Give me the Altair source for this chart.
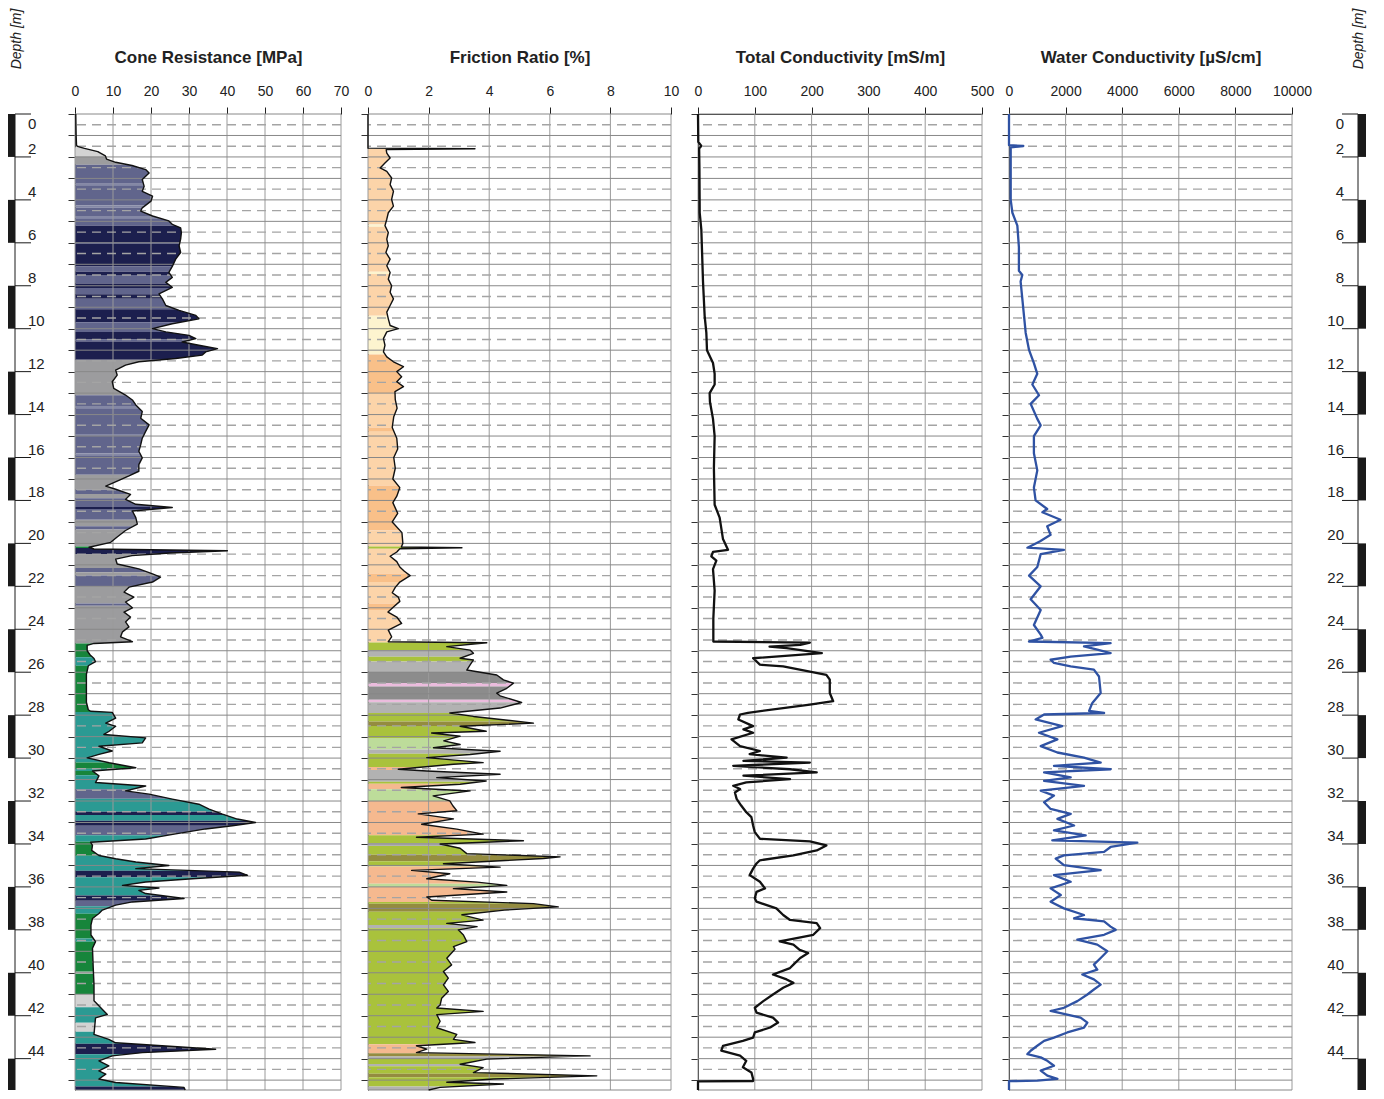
import altair as alt
import pandas as pd

# ---------------- data ----------------
cone_depth = [0.0, 1.0, 1.45, 1.51, 1.6, 1.75, 1.95, 2.1, 2.25, 2.4, 2.59, 2.75, 3.05, 3.37, 3.6, 3.83, 4.06, 4.37, 4.52, 4.75,
              4.98, 5.14, 5.3, 5.52, 5.83, 6.14, 6.45, 6.76, 7.1, 7.38, 7.61, 7.84, 8.07, 8.38, 8.61, 8.92, 9.15, 9.38, 9.54, 9.77,
              10.0, 10.15, 10.31, 10.46, 10.62, 10.77, 10.93, 11.08, 11.23, 11.39, 11.54, 11.7, 11.93, 12.16, 12.47, 12.78, 13.09, 13.32, 13.55, 13.86,
              14.17, 14.48, 14.78, 15.1, 15.4, 15.71, 16.02, 16.33, 16.64, 16.86, 17.1, 17.33, 17.48, 17.72, 17.95, 18.18, 18.33, 18.49, 18.8, 19.1,
              19.4, 19.7, 19.95, 20.18, 20.26, 20.34, 20.45, 20.57, 20.73, 20.96, 21.19, 21.42, 21.57, 21.8, 22.04, 22.27, 22.5, 22.73, 23.0, 23.2,
              23.43, 23.66, 23.89, 24.12, 24.35, 24.58, 24.66, 24.75, 25.0, 25.2, 25.36, 25.51, 25.7, 26.1, 26.8, 27.4, 27.75, 27.82, 27.87, 28.14,
              28.37, 28.52, 28.75, 28.9, 29.06, 29.29, 29.45, 29.67, 29.83, 29.99, 30.22, 30.45, 30.6, 30.83, 31.14, 31.3, 31.53, 31.68, 31.91, 32.15,
              32.38, 32.61, 32.84, 33.0, 33.15, 33.3, 33.53, 33.77, 33.92, 34.07, 34.3, 34.54, 34.69, 34.84, 35.0, 35.15, 35.31, 35.46, 35.62, 35.77,
              35.93, 36.05, 36.16, 36.31, 36.54, 36.7, 36.85, 37.08, 37.24, 37.47, 37.78, 38.24, 38.55, 38.86, 39.78, 40.55, 41.3, 41.94, 42.1, 42.87,
              43.1, 43.26, 43.41, 43.56, 43.72, 43.87, 44.1, 44.34, 44.57, 44.72, 44.95, 45.11, 45.34, 45.46]
cone_qc = [0.2, 0.3, 0.4, 0.6, 2.5, 6.0, 8.0, 8.3, 10.7, 15.0, 18.6, 19.5, 17.7, 18.2, 17.7, 20.4, 20.0, 17.7, 17.3, 20.4,
           24.7, 25.6, 27.8, 28.0, 27.8, 27.4, 27.8, 26.5, 25.6, 24.7, 25.6, 23.9, 25.6, 22.1, 23.0, 23.9, 27.4, 31.8, 32.6, 25.6,
           20.4, 23.9, 30.0, 31.8, 28.2, 32.6, 37.5, 34.4, 33.5, 26.5, 16.8, 13.3, 10.7, 11.1, 9.8, 10.2, 13.3, 15.1, 16.0, 17.7,
           17.3, 19.5, 18.6, 17.7, 17.3, 16.8, 17.7, 16.8, 16.8, 14.2, 11.1, 8.1, 10.7, 14.6, 13.3, 16.0, 25.6, 15.1, 16.0, 16.4,
           13.3, 11.1, 9.4, 3.7, 5.0, 40.1, 25.0, 15.0, 10.7, 11.1, 16.8, 20.4, 22.5, 20.4, 14.2, 12.9, 15.5, 13.3, 15.1, 12.9,
           14.6, 13.3, 14.2, 12.5, 12.0, 15.1, 5.0, 3.2, 3.2, 4.0, 5.0, 5.4, 3.5, 3.0, 3.0, 3.0, 3.5, 4.1, 9.8, 10.7,
           8.1, 10.7, 9.0, 7.6, 18.6, 17.7, 6.3, 9.8, 6.3, 3.2, 9.0, 16.0, 4.6, 6.3, 5.4, 18.6, 13.3, 19.5, 25.6, 32.6,
           35.3, 38.8, 42.7, 47.5, 41.4, 34.4, 26.5, 18.6, 4.1, 4.6, 4.4, 6.3, 10.7, 16.0, 24.7, 16.0, 43.2, 45.4, 30.9, 18.6,
           12.5, 22.1, 16.8, 18.6, 28.7, 15.1, 10.7, 7.2, 6.3, 4.6, 4.2, 4.2, 5.4, 4.6, 4.8, 5.0, 5.0, 8.5, 5.4, 5.0,
           8.9, 10.7, 23.9, 37.0, 17.7, 9.8, 6.3, 8.9, 6.3, 8.1, 6.3, 10.7, 28.7, 29.0]

fr_depth = [0.0, 1.59, 1.62, 1.66, 1.82, 2.05, 2.28, 2.51, 2.67, 2.98, 3.29, 3.6, 3.98, 4.29, 4.6, 4.9, 5.2, 5.52, 5.83, 6.14,
            6.45, 6.76, 7.07, 7.38, 7.69, 8.0, 8.3, 8.61, 8.92, 9.23, 9.54, 9.85, 10.0, 10.15, 10.46, 10.77, 11.08, 11.31, 11.54, 11.77,
            12.0, 12.24, 12.47, 12.7, 12.93, 13.3, 13.7, 14.1, 14.6, 15.1, 15.6, 16.0, 16.5, 17.0, 17.4, 17.8, 18.1, 18.6, 19.0, 19.5,
            20.0, 20.17, 20.2, 20.25, 20.4, 20.6, 20.85, 21.1, 21.3, 21.5, 21.8, 22.05, 22.3, 22.5, 22.7, 22.95, 23.2, 23.43, 23.73, 24.04,
            24.35, 24.58, 24.63, 24.81, 24.97, 25.12, 25.35, 25.43, 25.66, 25.9, 26.13, 26.36, 26.51, 26.75, 26.98, 27.1, 27.41, 27.67, 27.9, 28.06,
            28.37, 28.52, 28.75, 28.83, 28.98, 29.2, 29.37, 29.52, 29.68, 29.83, 29.98, 30.21, 30.29, 30.52, 30.6, 30.75, 30.91, 31.07, 31.22, 31.37,
            31.53, 31.76, 31.99, 32.22, 32.45, 32.6, 32.83, 33.08, 33.31, 33.54, 33.69, 33.85, 34.0, 34.2, 34.45, 34.6, 34.68, 34.92, 35.08, 35.23,
            35.39, 35.62, 35.78, 35.93, 36.08, 36.24, 36.47, 36.62, 36.78, 36.93, 37.08, 37.3, 37.55, 37.7, 37.85, 38.0, 38.24, 38.55, 38.78, 38.9,
            39.32, 39.63, 39.94, 40.25, 40.56, 40.87, 41.19, 41.5, 41.64, 41.8, 41.95, 42.26, 42.56, 42.87, 43.1, 43.25, 43.4, 43.56, 43.72, 43.87,
            44.02, 44.26, 44.42, 44.65, 44.8, 44.95, 45.1, 45.18, 45.34, 45.46]
fr_rf = [0.0, 0.0, 3.53, 0.6, 0.62, 0.73, 0.56, 0.4, 0.62, 0.78, 0.73, 0.84, 0.78, 0.84, 0.67, 0.62, 0.56, 0.67, 0.62, 0.67,
         0.59, 0.73, 0.62, 0.73, 0.67, 0.78, 0.73, 0.84, 0.73, 0.62, 0.67, 0.73, 1.0, 0.62, 0.51, 0.56, 0.51, 0.62, 0.84, 1.17,
         0.95, 1.11, 0.95, 1.17, 0.89, 0.9, 0.96, 0.85, 0.8, 0.95, 0.98, 0.85, 0.9, 0.82, 1.05, 0.95, 0.82, 0.98, 0.8, 1.12,
         1.15, 1.1, 3.1, 1.05, 0.95, 0.73, 0.95, 1.05, 1.2, 1.39, 1.05, 0.9, 0.8, 1.0, 1.05, 0.85, 0.66, 0.95, 1.11, 0.67,
         0.78, 0.67, 3.92, 2.6, 3.37, 3.48, 3.04, 3.48, 3.37, 3.26, 4.25, 4.47, 4.8, 4.58, 4.25, 4.36, 5.07, 4.36, 2.7, 3.48,
         5.46, 3.04, 3.9, 2.1, 3.04, 2.5, 3.04, 2.16, 4.36, 3.37, 1.94, 3.8, 2.82, 1.0, 1.94, 4.36, 2.27, 3.9, 3.04, 1.1,
         3.37, 2.15, 2.7, 2.8, 2.93, 1.66, 2.82, 1.77, 2.93, 3.8, 1.6, 5.13, 2.38, 3.04, 3.26, 6.34, 5.79, 2.49, 4.36, 1.44,
         2.7, 1.94, 3.6, 4.58, 2.82, 4.58, 1.94, 2.1, 5.46, 6.28, 4.5, 3.1, 3.8, 2.6, 3.6, 2.98, 3.15, 3.26, 2.82, 2.87,
         2.6, 2.76, 2.49, 2.65, 2.49, 2.65, 2.43, 2.38, 2.27, 3.8, 2.27, 2.38, 2.27, 2.93, 2.82, 3.53, 1.6, 1.94, 1.6, 7.33,
         3.92, 3.04, 3.8, 3.48, 7.55, 4.14, 2.6, 4.47, 2.38, 2.0]

tc_depth = [0.0, 1.3, 1.49, 1.6, 2.5, 4.6, 5.4, 7.8, 9.4, 10.2, 11.0, 11.6, 12.1, 12.6, 13.0, 13.4, 14.2, 15.0, 16.5, 18.2,
            18.8, 19.8, 20.3, 20.4, 20.6, 20.8, 21.2, 22.2, 23.5, 24.57, 24.62, 24.73, 24.81, 24.88, 25.11, 25.35, 25.42, 25.65, 25.73, 26.12,
            26.35, 26.97, 27.35, 27.51, 27.89, 27.97, 28.2, 28.51, 28.66, 28.82, 29.13, 29.44, 29.67, 29.82, 29.98, 30.13, 30.21, 30.36, 30.52, 30.67,
            30.82, 30.98, 31.13, 31.29, 31.44, 31.6, 31.9, 32.21, 32.52, 32.75, 33.14, 33.45, 33.76, 33.88, 34.07, 34.3, 34.53, 34.76, 34.91, 35.15,
            35.45, 35.76, 36.07, 36.23, 36.53, 36.69, 37.0, 37.31, 37.54, 37.69, 37.92, 38.23, 38.54, 38.69, 38.93, 39.08, 39.31, 39.62, 39.78, 40.08,
            40.31, 40.47, 40.7, 41.01, 41.32, 41.63, 41.86, 42.09, 42.32, 42.55, 42.78, 43.02, 43.17, 43.4, 43.63, 43.86, 44.1, 44.4, 44.64, 44.94,
            45.04, 45.06, 45.46]
tc_val = [0, 0.5, 5.9, 2, 2.5, 3, 5.9, 8.8, 11.7, 14.7, 15.8, 26.4, 29.3, 29.3, 20.5, 21, 26.4, 29.3, 28, 29.3,
          38.1, 44, 52.8, 26.4, 23.5, 32.3, 26.4, 29.3, 27, 27, 197, 180, 126, 156, 218, 97, 100, 109, 150, 226,
          232, 232, 238, 197, 88, 74, 71, 97, 80, 97, 59, 74, 109, 91, 156, 80, 197, 62, 162, 209,
          80, 162, 85, 62, 74, 65, 68, 76, 85, 94, 97, 100, 109, 197, 226, 209, 168, 109, 103, 97,
          91, 109, 118, 103, 100, 103, 138, 150, 162, 209, 215, 203, 144, 168, 179, 194, 180, 168, 162, 132,
          156, 168, 150, 132, 115, 100, 103, 132, 141, 127, 100, 97, 79, 44, 41, 74, 85, 79, 94, 97,
          97, 0, 0]

wc_depth = [0.0, 1.45, 1.49, 1.55, 2.5, 4.0, 4.6, 5.2, 6.2, 7.3, 7.5, 7.8, 9.4, 10.2, 11.0, 11.6, 12.1, 12.6, 13.1, 13.5,
            14.2, 14.5, 15.0, 15.8, 16.6, 17.4, 18.0, 18.4, 18.55, 18.9, 19.2, 19.6, 19.9, 20.2, 20.3, 20.5, 21.1, 21.5, 22.0, 22.6,
            23.1, 23.8, 24.25, 24.4, 24.57, 24.65, 24.8, 24.95, 25.11, 25.27, 25.42, 25.57, 25.73, 25.88, 26.2, 26.97, 27.43, 27.8, 27.9, 27.97,
            28.2, 28.51, 28.82, 29.13, 29.44, 29.74, 29.98, 30.21, 30.36, 30.52, 30.67, 30.9, 31.06, 31.29, 31.52, 31.75, 32.06, 32.37, 32.6, 32.83,
            33.14, 33.37, 33.6, 33.83, 33.94, 34.14, 34.37, 34.53, 34.68, 34.99, 35.22, 35.45, 35.76, 36.07, 36.38, 36.69, 37.0, 37.31, 37.46, 37.61,
            37.85, 38.0, 38.23, 38.46, 38.69, 39.0, 39.31, 39.62, 39.85, 40.08, 40.31, 40.55, 40.78, 41.01, 41.32, 41.63, 41.78, 42.09, 42.32, 42.55,
            42.78, 43.02, 43.17, 43.4, 43.63, 43.79, 43.94, 44.1, 44.33, 44.56, 44.79, 44.94, 45.02, 45.05, 45.46]
wc_val = [0, 0, 506, 60, 60, 60, 120, 295, 350, 350, 470, 410, 530, 590, 710, 880, 1000, 825, 1060, 765,
          1000, 1120, 880, 880, 1000, 880, 940, 1350, 1180, 1820, 1350, 1470, 1100, 650, 1940, 1120, 1000, 710, 1120, 765,
          1120, 880, 1120, 1180, 707, 3590, 2650, 3120, 3590, 2180, 1470, 1590, 2180, 3000, 3180, 3240, 2945, 2830, 3360, 1240,
          940, 1880, 1060, 1710, 1120, 1710, 2650, 3240, 1590, 3590, 1240, 2180, 1240, 2650, 1120, 1590, 1240, 1470, 2180, 1710,
          2300, 1590, 2710, 1530, 4535, 3590, 3360, 1940, 1650, 1940, 3240, 1590, 2180, 1470, 1830, 1470, 1940, 2650, 2300, 3360,
          3590, 3770, 3360, 2415, 3120, 3475, 3240, 3000, 3120, 2590, 3000, 3240, 3000, 2770, 2415, 1940, 1470, 2530, 2770, 2650,
          2060, 1590, 1240, 1000, 765, 650, 1120, 1355, 1590, 1120, 1355, 1710, 1000, 0, 0]

# soil-behaviour colour bands (top depth of each band, class)
cone_top = [1.55, 1.98, 2.36, 3.25, 3.32, 4.25, 4.35, 4.75, 4.85, 5.2, 6.0, 6.05, 7.1, 7.35, 7.5, 7.9, 8.1, 8.4, 8.6, 9.1,
            9.7, 10.15, 10.5, 10.6, 11.45, 13.1, 13.6, 13.7, 14.9, 15.0, 15.8, 15.9, 16.8, 17.5, 17.7, 17.9, 18.3, 18.4, 18.9, 19.2,
            19.35, 20.15, 20.22, 20.5, 21.15, 21.35, 21.5, 22.0, 22.8, 22.9, 24.66, 25.3, 25.7, 27.85, 30.2, 30.5, 30.6, 30.8, 31.45, 31.9,
            32.5, 32.65, 32.92, 33.15, 33.6, 33.9, 34.55, 35.25, 35.55, 36.4, 36.65, 36.9, 37.25, 38.4, 38.55, 39.95, 40.05, 41.0, 41.6, 42.33,
            42.75, 43.3, 43.8, 45.3]
cone_soil = ["lgray", "gray", "slate", "lslate", "slate", "lslate", "slate", "lslate", "slate", "navy", "slate", "navy", "slate", "navy", "slate", "navy", "slate", "navy", "slate", "navy",
             "slate", "navy", "slate", "navy", "gray", "slate", "lslate", "slate", "lslate", "slate", "lslate", "slate", "gray", "slate", "gray", "slate", "navy", "slate", "gray", "slate",
             "gray", "green", "navy", "gray", "slate", "gray", "slate", "gray", "slate", "gray", "green", "teal", "green", "teal", "green", "teal", "green", "teal", "slate", "teal",
             "navy", "teal", "navy", "slate", "teal", "green", "teal", "navy", "teal", "navy", "slate", "teal", "green", "teal", "green", "lgray", "green", "lgray", "teal", "lgray",
             "teal", "navy", "teal", "navy"]
cone_colors = {"lgray": "#d3d3d3", "gray": "#9c9c9e", "slate": "#61658c", "lslate": "#8488a5",
               "navy": "#1c1f4e", "teal": "#2b9a93", "green": "#17853b"}

fr_top = [1.62, 5.15, 5.25, 7.35, 7.45, 9.4, 11.2, 13.0, 14.6, 14.8, 17.3, 19.4, 20.15, 20.25, 21.4, 21.8, 22.8, 23.1, 24.62, 24.97,
          25.28, 25.5, 25.97, 26.5, 26.67, 27.28, 27.4, 27.9, 28.3, 28.5, 29.06, 29.6, 29.8, 30.42, 30.55, 31.1, 31.2, 31.45, 32.0, 33.6,
          33.95, 34.1, 34.5, 34.8, 35.05, 35.85, 36.0, 36.7, 36.78, 37.16, 37.78, 37.93, 43.33, 43.75, 43.9, 44.0, 44.25, 44.35, 44.7, 44.87,
          45.3]
fr_soil = ["peach", "cream", "peach", "cream", "peach", "cream", "orange", "peach", "orange", "peach", "orange", "peach", "ygreen", "peach", "orange", "peach", "orange", "peach", "ygreen", "gray",
           "ygreen", "gray", "dgray", "pink", "dgray", "pink", "gray", "ygreen", "olive", "ygreen", "lgreen", "gray", "ygreen", "salmon", "gray", "ygreen", "salmon", "lgreen", "salmon", "ygreen",
           "gray", "ygreen", "olive", "ygreen", "salmon", "lgreen", "salmon", "ygreen", "olive", "ygreen", "gray", "ygreen", "salmon", "olive", "gray", "ygreen", "gray", "ygreen", "olive", "ygreen",
           "gray"]
fr_colors = {"peach": "#fcd4a9", "cream": "#fdf4cf", "orange": "#f9c089", "ygreen": "#a9c23c", "lgreen": "#bddc9a",
             "gray": "#b2b2b2", "dgray": "#8c8c8c", "pink": "#ebbcdd", "olive": "#948c40", "salmon": "#f5b98f"}

depth_labels = list(range(0, 45, 2))

# ---------------- layout constants ----------------
DMAX = 45.46
H = 976
INK = "#222222"


def y_scale():
    return alt.Scale(domain=[0, DMAX], reverse=True, nice=False, zero=False)


def data_panel(depth, vals, xmax, step, title, W, line_color, line_w,
               tops=None, soils=None, colors=None, fmt=None):
    ticks = [step * i for i in range(int(round(xmax / step)) + 1)]
    xsc = alt.Scale(domain=[0, xmax], nice=False, zero=False)
    ysc = y_scale()
    ax_kw = dict(orient="top", values=ticks, title=title, titleFontSize=17, titleFontWeight="bold",
                 titleColor=INK, titlePadding=18, labelFontSize=14, labelColor=INK, labelPadding=9,
                 labelFlush=False, labelOverlap=False, tickSize=7, tickColor=INK, domainColor=INK,
                 grid=False)
    if fmt:
        ax_kw["format"] = fmt
    xaxis = alt.Axis(**ax_kw)
    yaxis = alt.Axis(orient="left", values=list(range(46)), labels=False, ticks=True, tickSize=7,
                     tickColor="#333333", domainColor=INK, grid=False, title=None)
    df = pd.DataFrame({"depth": depth, "v": vals})
    layers = []
    if tops is not None:
        sdf = pd.DataFrame({"top": tops, "bottom": tops[1:] + [DMAX],
                            "hex": [colors[s] for s in soils]})
        layers.append(
            alt.Chart(sdf).mark_rect().encode(
                y=alt.Y("top:Q", scale=ysc, axis=yaxis),
                y2="bottom:Q",
                x=alt.value(0), x2=alt.value(W),
                color=alt.Color("hex:N", scale=None, legend=None),
            )
        )
        layers.append(
            alt.Chart(df).mark_area(orient="horizontal", color="white", opacity=1).encode(
                y=alt.Y("depth:Q", scale=ysc, axis=yaxis),
                x=alt.X("v:Q", scale=xsc, axis=xaxis, stack=None),
                x2=alt.value(W),
            )
        )
    vg = pd.DataFrame({"gx": ticks})
    layers.append(alt.Chart(vg).mark_rule(color="#9a9a9a", strokeWidth=1).encode(
        x=alt.X("gx:Q", scale=xsc, axis=xaxis)))
    hd = pd.DataFrame({"gy": [i + 0.5 for i in range(45)]})
    layers.append(alt.Chart(hd).mark_rule(color="#a4a4a4", strokeWidth=1.4, strokeDash=[9, 6]).encode(
        y=alt.Y("gy:Q", scale=ysc, axis=yaxis)))
    hs = pd.DataFrame({"gy": list(range(46)) + [DMAX]})
    layers.append(alt.Chart(hs).mark_rule(color="#888888", strokeWidth=1).encode(
        y=alt.Y("gy:Q", scale=ysc, axis=yaxis)))
    layers.append(alt.Chart(df).mark_line(color=line_color, strokeWidth=line_w, strokeJoin="round").encode(
        x=alt.X("v:Q", scale=xsc, axis=xaxis),
        y=alt.Y("depth:Q", scale=ysc, axis=yaxis),
        order="depth:Q",
    ))
    return alt.layer(*layers).properties(width=W, height=H)


def depth_panel(W, bar_x0, bar_x1, edge_x, tick_x0, tick_x1, lab_x, lab_align, title_x):
    ysc = y_scale()
    segs = pd.DataFrame({"top": [t for t in range(0, 46, 4)],
                         "bottom": [min(t + 2, DMAX) for t in range(0, 46, 4)]})
    bar = alt.Chart(segs).mark_rect(color="#1a1a1a").encode(
        y=alt.Y("top:Q", scale=ysc, axis=None), y2="bottom:Q",
        x=alt.value(bar_x0), x2=alt.value(bar_x1))
    edge = alt.Chart(pd.DataFrame({"d": [0]})).mark_rule(color="#1a1a1a", strokeWidth=1).encode(
        x=alt.value(edge_x), y=alt.value(0), y2=alt.value(H))
    tdf = pd.DataFrame({"d": depth_labels, "lab": [str(d) for d in depth_labels]})
    ticks = alt.Chart(tdf).mark_rule(color="#1a1a1a", strokeWidth=1).encode(
        y=alt.Y("d:Q", scale=ysc, axis=None), x=alt.value(tick_x0), x2=alt.value(tick_x1))
    labs = alt.Chart(tdf[tdf["d"] > 0]).mark_text(
        align=lab_align, baseline="alphabetic", dy=-3, fontSize=15, color=INK).encode(
        y=alt.Y("d:Q", scale=ysc, axis=None), x=alt.value(lab_x), text="lab:N")
    lab0 = alt.Chart(tdf[tdf["d"] == 0]).mark_text(
        align=lab_align, baseline="top", dy=3, fontSize=15, color=INK).encode(
        y=alt.Y("d:Q", scale=ysc, axis=None), x=alt.value(lab_x), text="lab:N")
    ttl = alt.Chart(pd.DataFrame({"t": ["Depth [m]"]})).mark_text(
        angle=270, fontStyle="italic", fontSize=14, color=INK, align="center", baseline="middle").encode(
        x=alt.value(title_x), y=alt.value(-75), text="t:N")
    return alt.layer(bar, edge, ticks, labs, lab0, ttl).properties(width=W, height=H)


left = depth_panel(40, 0, 7, 7, 7, 23, 20, "left", 9)
cone = data_panel(cone_depth, cone_qc, 70, 10, "Cone Resistance [MPa]", 266, "#111111", 1.4,
                  cone_top, cone_soil, cone_colors)
fric = data_panel(fr_depth, fr_rf, 10, 2, "Friction Ratio [%]", 303, "#111111", 1.4,
                  fr_top, fr_soil, fr_colors)
tcon = data_panel(tc_depth, tc_val, 500, 100, "Total Conductivity [mS/m]", 284, "#111111", 2.3)
wcon = data_panel(wc_depth, wc_val, 10000, 2000, "Water Conductivity [µS/cm]", 283, "#2f52a3", 2.3,
                  fmt="d")
right = depth_panel(48, 39, 47, 39, 23, 39, 25, "right", 40)

chart = alt.hconcat(left, cone, fric, tcon, wcon, right, spacing=27, bounds="flush").properties(
    padding={"left": 0, "top": 0, "right": 0, "bottom": 0}
).configure(font="Liberation Sans").configure_view(stroke="transparent", strokeWidth=0)

chart.save("out.html", embed_options={"renderer": "svg", "actions": False})
